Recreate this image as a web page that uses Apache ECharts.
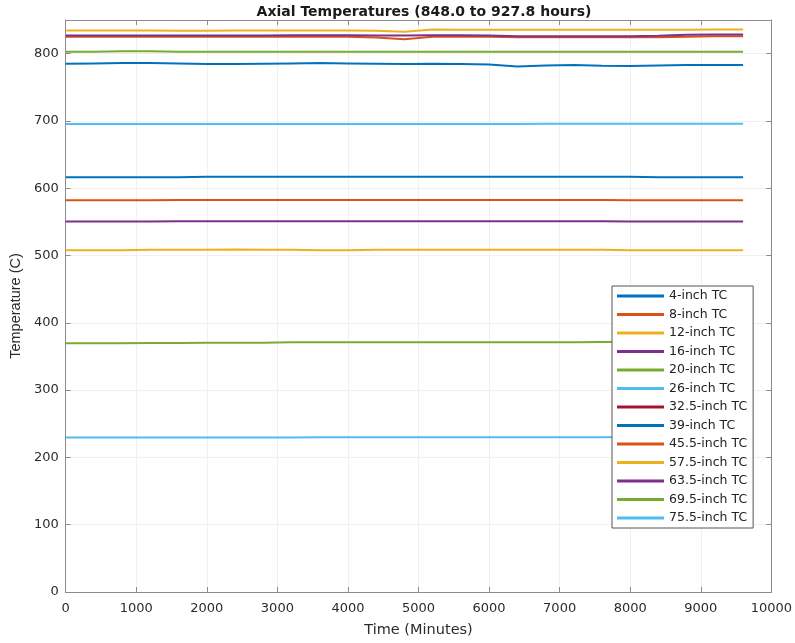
<!DOCTYPE html>
<html>
<head>
<meta charset="utf-8">
<script src="https://cdn.jsdelivr.net/npm/echarts@6/dist/echarts.min.js"></script>
<style>
html,body{margin:0;padding:0;background:#fff;}
#chart{width:795px;height:643px;}
</style>
</head>
<body>
<div id="chart"></div>
<script>
const titleText = "Axial Temperatures (848.0 to 927.8 hours)";
const xAxisName = "Time (Minutes)";
const yAxisName = "Temperature (C)";
const xTicks = [0,1000,2000,3000,4000,5000,6000,7000,8000,9000,10000];
const yTicks = [0,100,200,300,400,500,600,700,800];

const timeMinutes = [0,400,800,1200,1600,2000,2400,2800,3200,3600,4000,4400,4800,5200,5600,6000,6400,6800,7200,7600,8000,8400,8800,9200,9600];

const seriesNames = ["4-inch TC","8-inch TC","12-inch TC","16-inch TC","20-inch TC","26-inch TC","32.5-inch TC","39-inch TC","45.5-inch TC","57.5-inch TC","63.5-inch TC","69.5-inch TC","75.5-inch TC"];

const tc4   = [785,785.5,786,786,785.5,784.5,784.5,785,785.5,786,785.5,785,784.5,785,784.5,784,781,782.5,783,782,781.5,782.5,783,783,783];
const tc8   = [825,825,825,825,825,825,825,825,825,825,825,824,821.5,825,825,825,824.5,824.5,824.5,824.5,824.5,824.5,825,826,826];
const tc12  = [834.5,834.5,834.5,834.5,834,834,834.5,834.5,834.5,834.5,834.5,834,832.5,836,835.5,835.5,835.5,835.5,835.5,835.5,835.5,835.5,835.5,836,836];
const tc16  = [827,827,827,827,827,827,827,827,827.5,827.5,827.5,827,827,827.5,827.5,827,826,826,826,826,826,826.5,828,828.5,828.5];
const tc20  = [803,803,803.5,803.5,803,803,803,803,803,803,803,803,803,803,803,803,803,803,803,803,803,803,803,803,803];
const tc26  = [695.5,695.5,695.5,695.5,695.5,695.5,695.5,695.5,695.5,695.5,695.5,695.5,695.5,695.5,695.5,695.5,695.5,696,696,696,696,696,696,696,696];
const tc32_5 = [null,null,null,null,null,null,null,null,null,null,null,null,null,null,null,null,null,null,null,null,null,null,null,null,null];
const tc39  = [616.5,616.5,616.5,616.5,616.5,617,617,617,617,617,617,617,617,617,617,617,617,617,617,617,617,616.5,616.5,616.5,616.5];
const tc45_5 = [582,582,582,582,582.5,582.5,582.5,582.5,582.5,582.5,582.5,582.5,582.5,582.5,582.5,582.5,582.5,582.5,582.5,582.5,582,582,582,582,582];
const tc57_5 = [508,508,508,508.5,508.5,508.5,509,508.5,508.5,508,508,508.5,508.5,508.5,508.5,508.5,508.5,508.5,508.5,508.5,508,508,508,508,508];
const tc63_5 = [550.5,550.5,550.5,550.5,551,551,551,551,551,551,551,551,551,551,551,551,551,551,551,551,550.5,550.5,550.5,550.5,550.5];
const tc69_5 = [369.5,369.5,369.5,370,370,370.5,370.5,370.5,371,371,371,371,371,371,371,371,371,371,371,371.5,372,372,372.5,372.5,372.5];
const tc75_5 = [229.5,229.5,229.5,229.5,229.5,229.5,229.5,229.5,229.5,230,230,230,230,230,230,230,230,230,230,230,230.5,230.5,230.5,230.5,230.5];

const allValues = [tc4,tc8,tc12,tc16,tc20,tc26,tc32_5,tc39,tc45_5,tc57_5,tc63_5,tc69_5,tc75_5];
const colors = ["#0072BD","#D95319","#EDB120","#7E2F8E","#77AC30","#4DBEEE","#A2142F","#0072BD","#D95319","#EDB120","#7E2F8E","#77AC30","#4DBEEE"];

const axisColor = "#8c8c8c";
const labelColor = "#2b2b2b";

const chart = echarts.init(document.getElementById('chart'), null, {renderer:'canvas'});

const series = seriesNames.map((name, k) => ({
  name: name,
  type: 'line',
  xAxisIndex: 0,
  yAxisIndex: 0,
  showSymbol: false,
  symbol: 'none',
  lineStyle: {width: 2, color: colors[k]},
  itemStyle: {color: colors[k]},
  data: timeMinutes.map((t, i) => [t, allValues[k][i]]),
  animation: false
}));

const xMin = xTicks[0], xMax = xTicks[xTicks.length-1];
const yMin = yTicks[0], yMax = 850;
const plain = v => String(v);

chart.setOption({
  animation: false,
  backgroundColor: '#ffffff',
  title: {
    text: titleText,
    left: 419, textAlign: 'center',
    top: 0,
    textStyle: {fontFamily: 'DejaVu Sans', fontWeight: 'bold', fontSize: 14, color: '#1a1a1a'}
  },
  grid: {left: 65, right: 22, top: 20, bottom: 50, containLabel: false},
  legend: {
    orient: 'vertical',
    left: 612,
    top: 286,
    backgroundColor: '#ffffff',
    borderColor: '#555555',
    borderWidth: 1,
    padding: [3, 6, 3, 5],
    itemGap: 4.5,
    itemWidth: 47,
    itemHeight: 3,
    icon: 'rect',
    textStyle: {fontFamily: 'DejaVu Sans', fontSize: 12.5, color: '#222222', lineHeight: 14},
    data: seriesNames
  },
  xAxis: [{
    type: 'value', min: xMin, max: xMax, interval: 1000,
    position: 'bottom',
    name: xAxisName, nameLocation: 'middle', nameGap: 31,
    nameTextStyle: {fontFamily: 'DejaVu Sans', fontSize: 14.5, color: labelColor},
    axisLine: {show: true, onZero: false, lineStyle: {color: axisColor, width: 1}},
    axisTick: {show: true, inside: true, length: 5, lineStyle: {color: axisColor}},
    axisLabel: {fontFamily: 'DejaVu Sans', fontSize: 13, color: labelColor, margin: 10, formatter: plain},
    splitLine: {show: true, lineStyle: {color: '#f0f0f0', width: 1}}
  }, {
    type: 'value', min: xMin, max: xMax, interval: 1000,
    position: 'top',
    axisLine: {show: true, onZero: false, lineStyle: {color: axisColor, width: 1}},
    axisTick: {show: true, inside: true, length: 5, lineStyle: {color: axisColor}},
    axisLabel: {show: false},
    splitLine: {show: false}
  }],
  yAxis: [{
    type: 'value', min: yMin, max: yMax, interval: 100,
    position: 'left',
    name: yAxisName, nameLocation: 'middle', nameGap: 38, nameRotate: 90,
    nameTextStyle: {fontFamily: 'Liberation Sans', fontSize: 14.5, color: labelColor},
    axisLine: {show: true, onZero: false, lineStyle: {color: axisColor, width: 1}},
    axisTick: {show: true, inside: true, length: 5, lineStyle: {color: axisColor}},
    axisLabel: {fontFamily: 'DejaVu Sans', fontSize: 13, color: labelColor, margin: 7, showMaxLabel: false, formatter: plain},
    splitLine: {show: true, lineStyle: {color: '#f0f0f0', width: 1}}
  }, {
    type: 'value', min: yMin, max: yMax, interval: 100,
    position: 'right',
    axisLine: {show: true, onZero: false, lineStyle: {color: axisColor, width: 1}},
    axisTick: {show: true, inside: true, length: 5, lineStyle: {color: axisColor}},
    axisLabel: {show: false},
    splitLine: {show: false}
  }],
  series: series
});
</script>
</body>
</html>
